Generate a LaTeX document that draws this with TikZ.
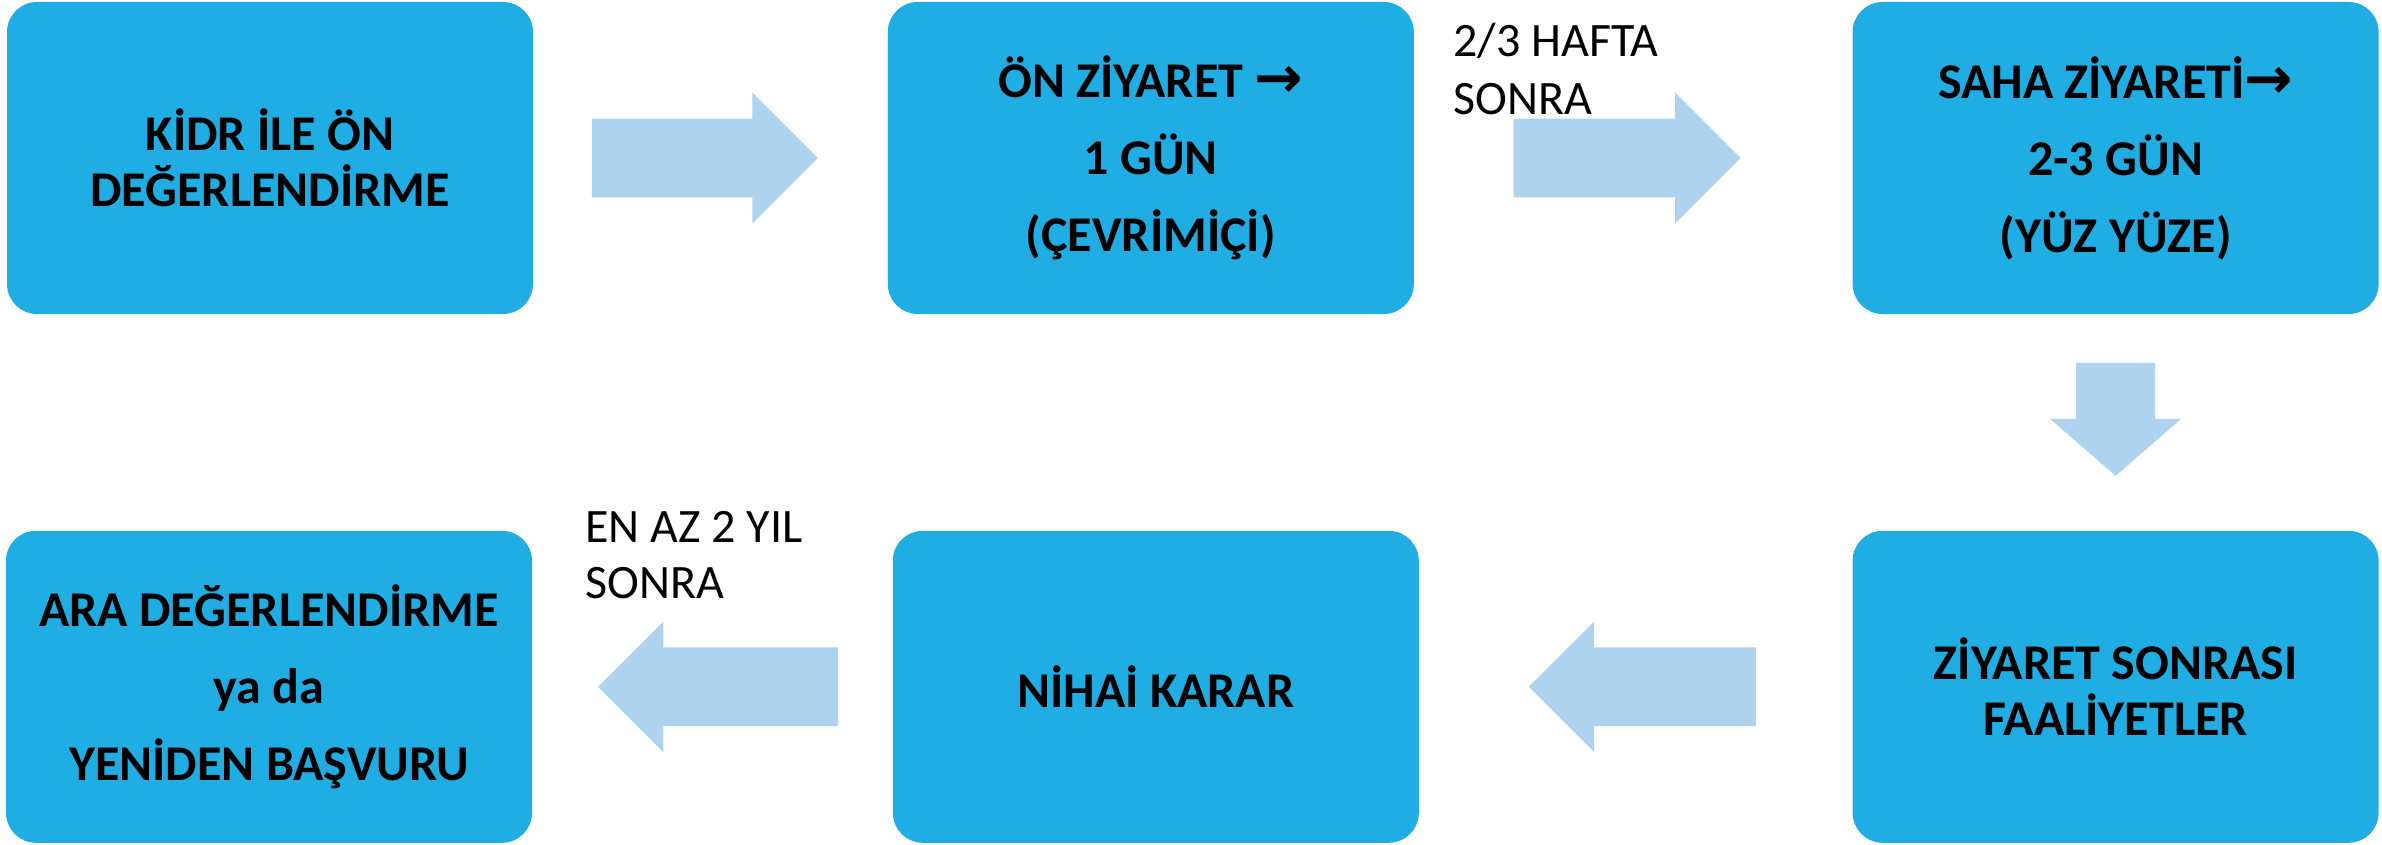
\documentclass[tikz,border=0pt]{standalone}
\usepackage{tikz}
\usepackage{fontspec}
\setmainfont{Carlito}
\newfontfamily\arrowfont{DejaVu Sans}
\usetikzlibrary{calc}
\usetikzlibrary{shapes.arrows}
\usetikzlibrary{positioning}
\usepackage{xcolor}
\definecolor{boxblue}{HTML}{1FADE3}
\definecolor{arrowblue}{HTML}{ADD3EE}
\newcommand{\ra}{{\arrowfont\bfseries\fontsize{29}{28}\selectfont →}}
\newcommand{\gap}{\\[10.5pt]}

\begin{document}
\begin{tikzpicture}[
    stepbox/.style={rectangle,rounded corners=15pt,fill=boxblue,minimum width=263pt,
      minimum height=156pt,inner sep=0pt,align=center,font=\bfseries\fontsize{25}{28}\selectfont},
    flow/.style={single arrow,fill=arrowblue,single arrow head extend=13pt,anchor=tail,
      inner xsep=0pt,inner ysep=19.5pt},
    note/.style={align=left,inner sep=0pt,font=\fontsize{24}{29}\selectfont}]
  \useasboundingbox (0,0) rectangle (1191pt,-422.5pt);

  \node[stepbox] (kidr) at (135pt,-79pt) {KİDR İLE ÖN\\DEĞERLENDİRME};
  \node[stepbox, right=177pt of kidr] (onziyaret) {ÖN ZİYARET \ra\gap 1 GÜN\gap (ÇEVRİMİÇİ)};
  \node[stepbox, right=219pt of onziyaret] (saha) {SAHA ZİYARETİ\ra\gap 2-3 GÜN\gap (YÜZ YÜZE)};
  \node[stepbox, below=108pt of saha] (faal) {ZİYARET SONRASI\\FAALİYETLER};
  \node[stepbox, left=216.5pt of faal] (nihai) {NİHAİ KARAR};
  \node[stepbox, left=180pt of nihai] (ara) {ARA DEĞERLENDİRME\gap ya da\gap YENİDEN BAŞVURU};

  \node[flow, minimum height=113pt] (kidr-onz) at ($(kidr.east)+(29pt,0)$) {};
  \node[flow, minimum height=113.5pt] (onz-saha) at ($(onziyaret.east)+(49.5pt,0)$) {};
  \node[flow, minimum height=56.5pt, shape border rotate=270, single arrow tip angle=98,
    inner xsep=19.5pt, inner ysep=0pt] (saha-faal) at ($(saha.south)+(0,-24pt)$) {};
  \node[flow, minimum height=113.5pt, shape border rotate=180] (faal-nihai) at ($(faal.west)+(-48pt,0)$) {};
  \node[flow, minimum height=120pt, shape border rotate=180] (nihai-ara) at ($(nihai.west)+(-27pt,0)$) {};

  \node[note, anchor=west] (hafta) at (726.5pt,-34.5pt) {2/3 HAFTA\\SONRA};
  \node[note, anchor=west, font=\fontsize{24}{28}\selectfont] (yil) at (292.5pt,-277.5pt) {EN AZ 2 YIL\\SONRA};
\end{tikzpicture}
\end{document}
